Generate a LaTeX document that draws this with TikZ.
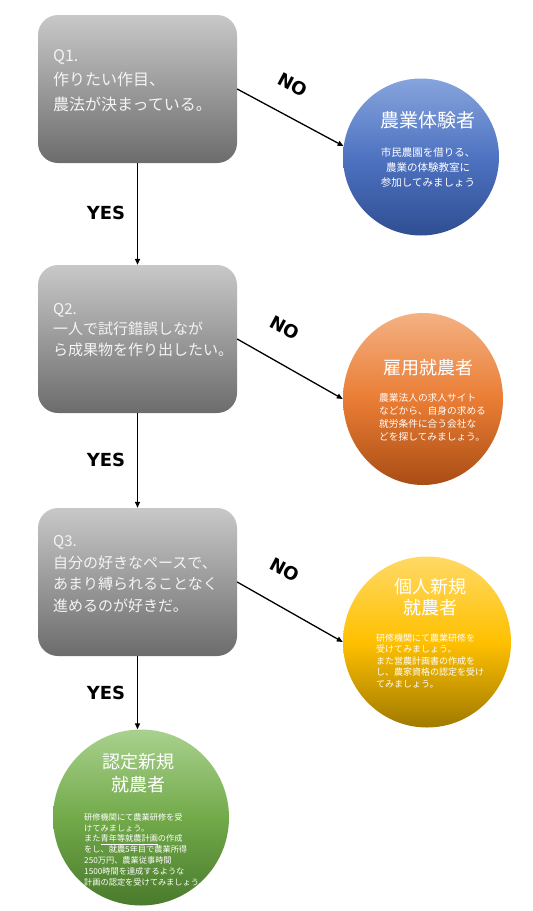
\documentclass[tikz,border=0pt]{standalone}
\usepackage{fontspec}
\newfontfamily\jp{Noto Sans CJK JP}
\newfontfamily\verd{DejaVu Sans}
\usetikzlibrary{shapes.geometric,arrows.meta}
\definecolor{qtop}{HTML}{C8C8C8}
\definecolor{qbot}{HTML}{6C6C6C}
\definecolor{qtxt}{HTML}{F4F4F4}
\definecolor{btop}{HTML}{86A4DC}
\definecolor{bmid}{HTML}{4F73C2}
\definecolor{bbot}{HTML}{2F4E92}
\definecolor{otop}{HTML}{F4B183}
\definecolor{omid}{HTML}{EA7D34}
\definecolor{obot}{HTML}{A94D15}
\definecolor{ytop}{HTML}{FFD966}
\definecolor{ymid}{HTML}{FFC000}
\definecolor{ybot}{HTML}{A07A00}
\definecolor{gtop}{HTML}{A9D18E}
\definecolor{gmid}{HTML}{72AA4A}
\definecolor{gbot}{HTML}{4A7A2C}
\begin{document}
\begin{tikzpicture}[x=1pt,y=-1pt,
  qbox/.style={rectangle, rounded corners=20pt, top color=qtop, bottom color=qbot, draw=none, minimum width=199pt, minimum height=148pt, inner sep=0pt},
  qtext/.style={text=qtxt, align=left, anchor=base west, inner sep=0pt},
  rcirc/.style={ellipse, draw=none, inner sep=0pt},
  ctext/.style={text=white, align=center, anchor=base, inner sep=0pt},
  ltext/.style={text=white, align=left, anchor=base west, inner sep=0pt},
  yn/.style={font=\verd\bfseries\fontsize{18}{20}\selectfont, inner sep=0pt},
  arr/.style={-{Triangle[length=6pt,width=5pt]}, line width=1.3pt}
]
\useasboundingbox (0,0) rectangle (533,911);
% question boxes
\node[qbox] (q1) at (137.5,89) {};
\node[qbox] (q2) at (137.5,339) {};
\node[qbox] (q3) at (137.5,582) {};
\node[qtext, font=\jp\fontsize{16}{24.5}\selectfont] (t1) at (53,110) {Q1.\\作りたい作目、\\農法が決まっている。};
\node[qtext, font=\jp\fontsize{15}{20.5}\selectfont] (t2) at (53,355) {Q2.\\一人で試行錯誤しなが\\ら成果物を作り出したい。};
\node[qtext, font=\jp\fontsize{15}{21.5}\selectfont] (t3) at (53,611) {Q3.\\自分の好きなペースで、\\あまり縛られることなく\\進めるのが好きだ。};
% result circles
\node[rcirc, top color=btop, bottom color=bbot, middle color=bmid, minimum width=156pt, minimum height=157pt] (c1) at (421,157) {};
\node[rcirc, top color=otop, bottom color=obot, middle color=omid, minimum width=160pt, minimum height=172pt] (c2) at (423,399) {};
\node[rcirc, top color=ytop, bottom color=ybot, middle color=ymid, minimum width=168pt, minimum height=171pt] (c3) at (427,642) {};
\node[rcirc, top color=gtop, bottom color=gbot, middle color=gmid, minimum width=176pt, minimum height=176pt] (c4) at (141,817.5) {};
% circle texts
\node[ctext, font=\jp\fontsize{19}{23}\selectfont] (h1) at (428,127) {農業体験者};
\node[ctext, font=\jp\fontsize{10.5}{15}\selectfont] (b1) at (428,186) {市民農園を借りる、\\農業の体験教室に\\参加してみましょう};
\node[ctext, font=\jp\fontsize{18}{22}\selectfont] (h2) at (428,374) {雇用就農者};
\node[ltext, font=\jp\fontsize{9.7}{13}\selectfont] (b2) at (379,440.7) {農業法人の求人サイト\\などから、自身の求める\\就労条件に合う会社な\\どを探してみましょう。};
\node[ctext, font=\jp\fontsize{18}{21.5}\selectfont] (h3) at (430,614.8) {個人新規\\就農者};
\node[ltext, font=\jp\fontsize{9}{11.5}\selectfont] (b3) at (376,687.4) {研修機関にて農業研修を\\受けてみましょう。\\また営農計画書の作成を\\し、農家資格の認定を受け\\てみましょう。};
\node[ctext, font=\jp\fontsize{18}{23}\selectfont] (h4) at (138,791.8) {認定新規\\就農者};
\node[ltext, font=\jp\fontsize{8.2}{10.8}\selectfont] (b4) at (84,885) {研修機関にて農業研修を受\\けてみましょう。\\また\underline{青年等就農計画}の作成\\をし、就農5年目で農業所得\\250万円、農業従事時間\\1500時間を達成するような\\計画の認定を受けてみましょう。};
% connectors
\draw[arr] (q1.south) -- (q2.north);
\draw[arr] (q2.south) -- (q3.north);
\draw[arr] (q3.south) -- (q3.south |- c4.north);
\draw[arr] (q1.east) -- (c1.172);
\draw[arr] (q2.east) -- (c2.180);
\draw[arr] (q3.east) -- (c3.180);
% labels
\node[yn] (y1) at (106,213) {YES};
\node[yn] (y2) at (106,460) {YES};
\node[yn] (y3) at (106,693) {YES};
\node[yn, rotate=-28] (n1) at (293,85) {NO};
\node[yn, rotate=-28] (n2) at (285,328) {NO};
\node[yn, rotate=-28] (n3) at (285,570) {NO};
\end{tikzpicture}
\end{document}
